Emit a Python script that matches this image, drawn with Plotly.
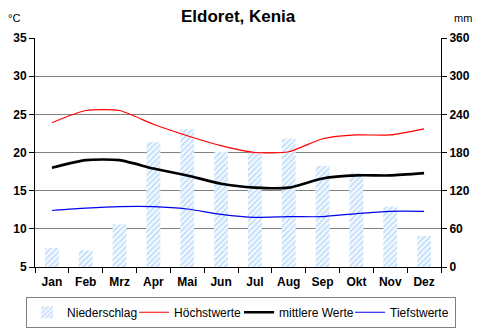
import plotly.graph_objects as go

months = ["Jan", "Feb", "Mrz", "Apr", "Mai", "Jun", "Jul", "Aug", "Sep", "Okt", "Nov", "Dez"]
precip_mm = [30, 26, 67, 197, 217, 181, 180, 202, 159, 148, 95, 49]
temp_max = [23.9, 25.5, 25.5, 23.7, 22.2, 20.9, 20.0, 20.1, 21.8, 22.3, 22.3, 23.1]
temp_mean = [18.0, 19.0, 19.0, 17.9, 17.0, 15.9, 15.4, 15.4, 16.6, 17.0, 17.0, 17.3]
temp_min = [12.4, 12.7, 12.9, 12.9, 12.6, 11.9, 11.5, 11.6, 11.6, 12.0, 12.3, 12.3]
temp_ticks = [5, 10, 15, 20, 25, 30, 35]
mm_ticks = [0, 60, 120, 180, 240, 300, 360]

FONT = "Liberation Sans, Arial, sans-serif"

fig = go.Figure()
fig.add_trace(go.Bar(
    x=months, y=precip_mm, name="Niederschlag", yaxis="y",
    width=0.41, legendwidth=62,
    marker=dict(color="white", line=dict(width=0),
                pattern=dict(shape="/", fgcolor="#8fc4f7", bgcolor="white", size=4, solidity=0.6)),
))
fig.add_trace(go.Scatter(
    x=months, y=temp_max, name="Höchstwerte", yaxis="y2", mode="lines", legendwidth=60,
    line=dict(color="#ff0000", width=1.2, shape="spline", smoothing=0.6),
))
fig.add_trace(go.Scatter(
    x=months, y=temp_mean, name="mittlere Werte", yaxis="y2", mode="lines", legendwidth=66,
    line=dict(color="#000000", width=2.6, shape="spline", smoothing=0.6),
))
fig.add_trace(go.Scatter(
    x=months, y=temp_min, name="Tiefstwerte", yaxis="y2", mode="lines", legendwidth=60,
    line=dict(color="#0000ee", width=1.2, shape="spline", smoothing=0.6),
))

fig.update_layout(
    width=482, height=329,
    margin=dict(l=35, r=41, t=38, b=62, autoexpand=False),
    paper_bgcolor="white", plot_bgcolor="white",
    font=dict(family=FONT, size=12, color="black"),
    showlegend=True,
    xaxis=dict(
        type="category", tickson="boundaries", ticks="outside", ticklen=5,
        tickcolor="black", showline=True, linecolor="black", linewidth=1,
        showgrid=False, tickfont=dict(family=FONT, size=12, weight="bold"),
        range=[-0.5, 11.5], ticklabelstandoff=4,
    ),
    yaxis=dict(
        side="right", range=[0, 360], tickvals=mm_ticks,
        ticks="outside", ticklen=5, tickcolor="black",
        showline=True, linecolor="black", linewidth=1,
        showgrid=True, gridcolor="#808080", gridwidth=1, zeroline=False,
        tickfont=dict(family=FONT, size=12, weight="bold"),
    ),
    yaxis2=dict(
        side="left", overlaying="y", range=[5, 35], tickvals=temp_ticks,
        ticks="outside", ticklen=5, tickcolor="black",
        showline=True, linecolor="black", linewidth=1,
        showgrid=False, zeroline=False,
        tickfont=dict(family=FONT, size=12, weight="bold"),
    ),
    legend=dict(
        orientation="h", x=-0.022, xanchor="left", y=-0.13, yanchor="top",
        bordercolor="#808080", borderwidth=1, font=dict(family=FONT, size=12),
        traceorder="normal", itemwidth=30,
    ),
    annotations=[
        dict(text="<b>Eldoret, Kenia</b>", x=0.5, y=1.094, xref="paper", yref="paper",
             showarrow=False, font=dict(family=FONT, size=17), xanchor="center", yanchor="middle"),
        dict(text="°C", x=-0.052, y=1.087, xref="paper", yref="paper",
             showarrow=False, font=dict(family=FONT, size=11), xanchor="center", yanchor="middle"),
        dict(text="mm", x=1.054, y=1.087, xref="paper", yref="paper",
             showarrow=False, font=dict(family=FONT, size=11), xanchor="center", yanchor="middle"),
    ],
)

fig.write_html("out.html")
